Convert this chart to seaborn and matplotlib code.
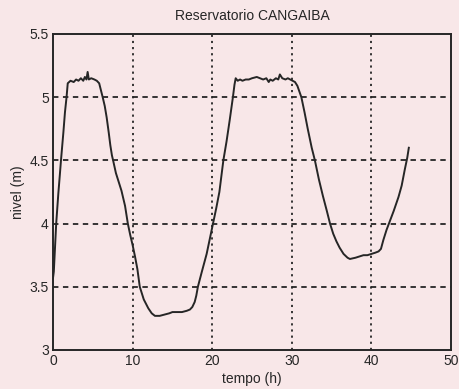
import matplotlib
matplotlib.use("Agg")
import matplotlib.pyplot as plt
import seaborn as sns
import pandas as pd

# Reservoir level record (hours, metres)
tempo = [0.0, 0.1, 0.25, 0.4, 0.67, 0.85, 1.0, 1.3, 1.5, 1.7, 1.85,
         2.2, 2.6, 2.9, 3.2, 3.5, 3.8, 4.0, 4.2, 4.35, 4.5, 4.8, 5.2, 5.5,
         5.8, 6.24, 6.5, 6.74, 7.0, 7.2, 7.4, 7.55, 7.9, 8.2, 8.6, 9.05,
         9.4, 9.7, 10.0, 10.3, 10.6, 10.9, 11.4, 11.97, 12.4, 12.8, 13.4,
         14.0, 14.6, 15.0, 15.5, 16.2, 16.8, 17.2, 17.5, 17.8, 18.0, 18.2,
         18.7, 19.3, 20.1, 20.5, 20.9, 21.4, 21.8, 22.2, 22.6, 22.8, 22.95,
         23.2, 23.5, 23.8, 24.2, 24.6, 25.0, 25.6, 26.0, 26.4, 26.8, 27.1,
         27.3, 27.6, 28.0, 28.3, 28.5, 28.8, 29.2, 29.5, 29.8, 30.1, 30.4,
         30.7, 31.2, 31.6, 32.0, 32.5, 32.9, 33.4, 33.9, 34.4, 34.8, 35.2,
         35.6, 36.0, 36.5, 37.0, 37.3, 38.0, 38.5, 39.0, 39.5, 40.0, 40.5,
         40.9, 41.2, 41.5, 41.9, 42.2, 42.8, 43.4, 43.8, 44.2, 44.5, 44.7]
nivel = [3.57, 3.62, 3.81, 4.00, 4.24, 4.38, 4.50, 4.72, 4.88, 5.00, 5.11,
         5.13, 5.12, 5.14, 5.13, 5.15, 5.13, 5.16, 5.14, 5.20, 5.14, 5.15,
         5.14, 5.13, 5.11, 5.00, 4.93, 4.84, 4.72, 4.62, 4.54, 4.50, 4.40,
         4.34, 4.26, 4.14, 4.00, 3.91, 3.83, 3.74, 3.64, 3.50, 3.40, 3.33,
         3.29, 3.27, 3.27, 3.28, 3.29, 3.30, 3.30, 3.30, 3.31, 3.32, 3.34,
         3.38, 3.43, 3.50, 3.62, 3.76, 4.00, 4.12, 4.25, 4.50, 4.65, 4.82,
         5.00, 5.10, 5.15, 5.13, 5.14, 5.13, 5.14, 5.14, 5.15, 5.16, 5.15,
         5.14, 5.15, 5.12, 5.14, 5.13, 5.15, 5.14, 5.18, 5.15, 5.14, 5.15,
         5.14, 5.13, 5.12, 5.09, 5.00, 4.88, 4.75, 4.60, 4.50, 4.35, 4.22,
         4.10, 4.00, 3.92, 3.86, 3.81, 3.76, 3.73, 3.72, 3.73, 3.74, 3.75,
         3.75, 3.76, 3.77, 3.78, 3.80, 3.87, 3.95, 4.00, 4.10, 4.21, 4.30,
         4.43, 4.52, 4.60]

x_ticks = [0, 10, 20, 30, 40, 50]
y_ticks = [3, 3.5, 4, 4.5, 5, 5.5]
y_tick_labels = ["3", "3.5", "4", "4.5", "5", "5.5"]

paper = "#f8e7e8"
ink = "#262626"

plt.rcParams["font.family"] = ["Liberation Sans", "DejaVu Sans"]

fig = plt.figure(figsize=(4.59, 3.89), dpi=100, facecolor=paper)
ax = fig.add_axes([0.1155, 0.1003, 0.8671, 0.8123], facecolor=paper)

df = pd.DataFrame({"tempo": tempo, "nivel": nivel})
sns.lineplot(data=df, x="tempo", y="nivel", ax=ax, color=ink, linewidth=1.4,
             estimator=None, sort=False)

ax.set_xlim(0, 50)
ax.set_ylim(3, 5.5)
ax.set_xticks(x_ticks)
ax.set_yticks(y_ticks)
ax.set_yticklabels(y_tick_labels)

# vertical grid dotted, horizontal grid dashed
for xv in x_ticks[1:-1]:
    ax.axvline(xv, color=ink, linestyle=(0, (1.2, 2.2)), linewidth=1.3, zorder=0)
for yv in y_ticks[1:-1]:
    ax.axhline(yv, color=ink, linestyle=(0, (3, 2.5)), linewidth=1.3, zorder=0)

ax.tick_params(axis="both", length=0, labelsize=10, colors=ink, pad=3)
for s in ax.spines.values():
    s.set_color(ink)
    s.set_linewidth(1.4)

ax.set_title("Reservatorio CANGAIBA", fontsize=10, color=ink, pad=10)
ax.set_xlabel("tempo (h)", fontsize=10, color=ink, labelpad=3)
ax.set_ylabel("nivel (m)", fontsize=10, color=ink, labelpad=3)

fig.savefig("out.png", dpi=100, facecolor=paper)
